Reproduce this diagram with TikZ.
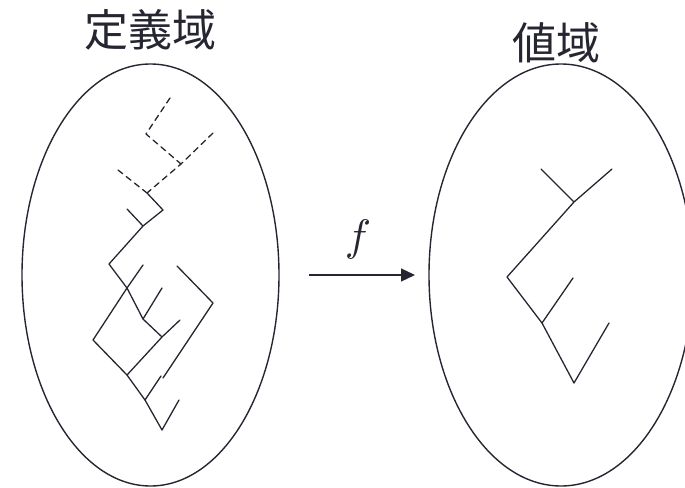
\documentclass[tikz,border=0pt]{standalone}
\usepackage{fontspec}
\setmainfont{Liberation Serif}
\newfontfamily\cjk{Noto Sans CJK JP}
\usetikzlibrary{shapes.geometric,arrows.meta}
\definecolor{ink}{RGB}{38,38,50}
\tikzset{
  setbox/.style={ellipse, draw=ink, line width=1.4pt, inner sep=0pt, minimum width=#1},
  branch/.style={draw=ink, line width=1.3pt, line cap=round, line join=round},
  dashbranch/.style={branch, dash pattern=on 6pt off 4.5pt},
  titletext/.style={text=ink, font=\cjk\fontsize{44}{50}\selectfont, inner sep=0pt},
  maptext/.style={text=ink, inner sep=0pt},
  maparrow/.style={draw=ink, line width=1.3pt, -{Triangle[length=14pt,width=13pt]}}
}
\begin{document}
\begin{tikzpicture}[x=1pt,y=-1pt]
\useasboundingbox (0,0) rectangle (685,487);
\clip (0,0) rectangle (685,487);
% sets
\node[setbox=257pt, minimum height=422pt] (dom) at (150.5,275) {};
\node[setbox=264pt, minimum height=422pt] (rng) at (561,275) {};
% titles
\node[titletext] (tdom) at (150,30) {定義域};
\node[titletext] (trng) at (556,43) {値域};
% map arrow
\coordinate (a0) at (309,275);
\coordinate (a1) at (415,275);
\draw[maparrow] (a0) -- (a1);
\node[maptext, anchor=base] (f) at (358,250) {\scalebox{4.4}{$f$}};
% left tree: dashed part
\coordinate (D1) at (170,98);
\coordinate (D2) at (146,134);
\coordinate (D3) at (181,164);
\coordinate (D4) at (213,133);
\coordinate (D5) at (118,170);
\coordinate (A) at (147,193);
\draw[dashbranch] (D1) -- (D2) -- (D3);
\draw[dashbranch] (D4) -- (D3) -- (A);
\draw[dashbranch] (D5) -- (A);
% left tree: solid part
\coordinate (B) at (163,210);
\coordinate (C) at (143,226);
\coordinate (E) at (127,209);
\coordinate (F) at (109,264);
\coordinate (G) at (127,288);
\coordinate (H) at (143,265);
\coordinate (I) at (143,319);
\coordinate (J) at (162,288);
\coordinate (K) at (162,337);
\coordinate (L) at (180,320);
\coordinate (M) at (127,375);
\coordinate (N) at (93,340);
\coordinate (O) at (145,400);
\coordinate (P) at (161,376);
\coordinate (Q) at (162,430);
\coordinate (R) at (179,400);
\coordinate (S) at (177,266);
\coordinate (T) at (213,303);
\coordinate (U) at (163,378);
\draw[branch] (A) -- (B) -- (C) -- (F) -- (G) -- (I) -- (K) -- (M) -- (O) -- (Q) -- (R);
\draw[branch] (E) -- (C);
\draw[branch] (H) -- (G);
\draw[branch] (J) -- (I);
\draw[branch] (L) -- (K);
\draw[branch] (G) -- (N) -- (M);
\draw[branch] (P) -- (O);
\draw[branch] (S) -- (T) -- (U);
% right tree
\coordinate (R1) at (541,169);
\coordinate (R2) at (574,202);
\coordinate (R3) at (612,169);
\coordinate (R4) at (507,277);
\coordinate (R5) at (542,323);
\coordinate (R6) at (573,278);
\coordinate (R7) at (574,383);
\coordinate (R8) at (609,323);
\draw[branch] (R1) -- (R2) -- (R4) -- (R5) -- (R7) -- (R8);
\draw[branch] (R3) -- (R2);
\draw[branch] (R6) -- (R5);
\end{tikzpicture}
\end{document}
